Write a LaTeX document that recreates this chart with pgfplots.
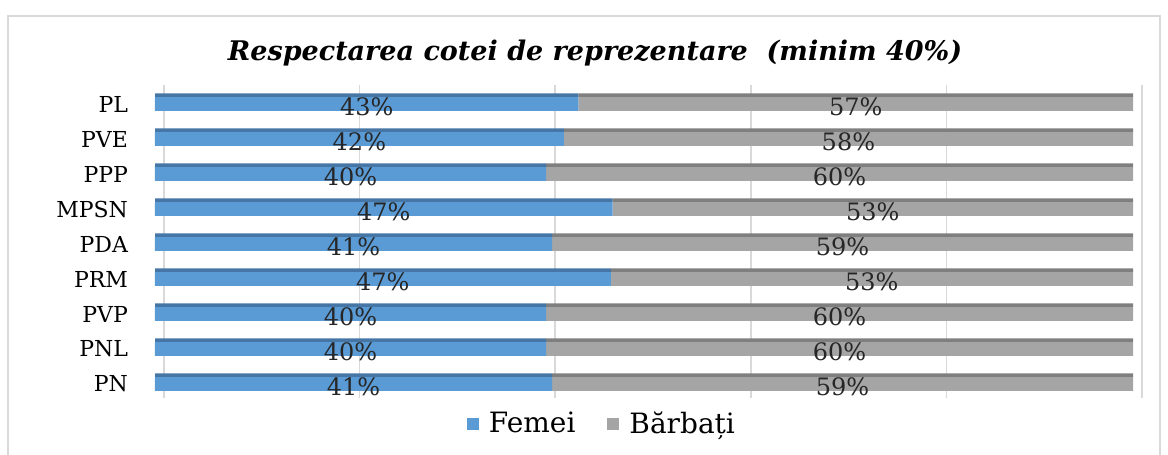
\documentclass[border=0pt]{standalone}
\usepackage{pgfplots}
\pgfplotsset{compat=1.18}
\usepackage{pgfplotstable}
\usepackage{fontspec}
\setmainfont{DejaVu Serif}
\definecolor{fem}{HTML}{5B9BD5}
\definecolor{femtop}{HTML}{4676A6}
\definecolor{barb}{HTML}{A5A5A5}
\definecolor{barbtop}{HTML}{7F7F7F}
\definecolor{gridc}{HTML}{D9D9D9}

\pgfplotstableread{
y cat f m flab mlab
0 PN 40.6 59.4 41 59
1 PNL 40.0 60.0 40 60
2 PVP 40.0 60.0 40 60
3 PRM 46.6 53.4 47 53
4 PDA 40.6 59.4 41 59
5 MPSN 46.8 53.2 47 53
6 PPP 40.0 60.0 40 60
7 PVE 41.8 58.2 42 58
8 PL 43.3 56.7 43 57
}\data

\pgfplotsset{base/.style={
  at={(77.5pt,28.5pt)}, anchor=south west,
  scale only axis, width=489pt, height=156.625pt,
  xmin=0, xmax=100, ymin=-0.4, ymax=8.55,
}}

\begin{document}
\begin{tikzpicture}
\useasboundingbox (0,0) rectangle (584pt,227.5pt);
\draw[gridc, line width=1pt] (4pt,-5pt) rectangle (580pt,219.5pt);

% main bars
\begin{axis}[base,
  xbar stacked, bar width=7pt,
  axis line style={draw=none}, tick style={draw=none},
  xtick={0,20,...,100}, xticklabels={},
  xmajorgrids, major grid style={gridc, line width=0.8pt, xshift=4.5pt},
  ytick={0,...,8},
  yticklabels={PN,PNL,PVP,PRM,PDA,MPSN,PPP,PVE,PL},
  yticklabel style={font=\fontsize{11}{13}\selectfont, xshift=-10pt},
  every axis title shift=0pt,
  title={\bfseries\itshape Respectarea cotei de reprezentare\ \ (minim 40\%)},
  title style={at={(0.45,1.1)}, anchor=center, font=\fontsize{13.5}{16}\selectfont},
  legend style={at={(0.458,-0.083)}, anchor=center, draw=none, fill=none,
    legend columns=2, font=\fontsize{14}{16}\selectfont,
    /tikz/every odd column/.append style={column sep=3pt},
    /tikz/every even column/.append style={column sep=14pt}},
  legend image code/.code={\fill[#1] (0pt,-3pt) rectangle (6pt,3pt);},
]
\addplot[fill=fem, draw=none] table[x=f, y=y] {\data};
\addplot[fill=barb, draw=none] table[x=m, y=y] {\data};
\legend{Femei, Bărbați}
\pgfplotsinvokeforeach{0,20,40,60,80,100}{
  \draw[gridc, line width=0.8pt] ([xshift=4.5pt]axis cs:#1,-0.4) -- ++(-7pt,-5pt);
}
\end{axis}

% top faces
\begin{axis}[base, hide axis,
  xbar stacked, bar width=1.8pt, bar shift=4.4pt]
\addplot[fill=femtop, draw=none] table[x=f, y=y] {\data};
\addplot[fill=barbtop, draw=none] table[x=m, y=y] {\data};
\end{axis}

% value labels
\begin{axis}[base, hide axis,
  nodes near coords={\pgfplotspointmeta\%},
  point meta=explicit symbolic,
  every node near coord/.style={anchor=center, yshift=-1.5pt,
    font=\fontsize{12}{14}\selectfont, text=black!85},
]
\addplot[draw=none, mark=none] table[x expr=\thisrow{f}/2, y=y, meta=flab] {\data};
\addplot[draw=none, mark=none] table[x expr=\thisrow{f}+\thisrow{m}/2, y=y, meta=mlab] {\data};
\end{axis}
\end{tikzpicture}
\end{document}
